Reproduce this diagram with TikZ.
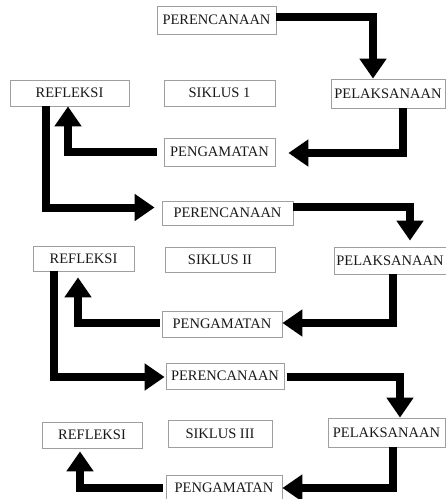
\documentclass[tikz,border=0pt]{standalone}
\usepackage{fontspec}
\setmainfont{Liberation Serif}
\usetikzlibrary{arrows.meta}
\begin{document}
\begin{tikzpicture}[x=1pt,y=-1pt,
  box/.style={draw=gray!75,line width=0.8pt,inner sep=0pt,fill=white,
    font=\fontsize{14.5}{16}\selectfont,text=black!90},
  flow/.style={line width=8pt,line join=miter,draw=black,
    -{Triangle[width=26pt,length=20pt]}}]
\useasboundingbox (0,0) rectangle (446,499);
% cycle 1
\node[box,minimum width=119pt,minimum height=28pt] (p1) at (216.5,20) {PERENCANAAN};
\node[box,minimum width=119pt,minimum height=26pt] (r1) at (69.5,93) {REFLEKSI};
\node[box,minimum width=111pt,minimum height=26pt] (s1) at (219.5,93) {SIKLUS 1};
\node[box,minimum width=114pt,minimum height=29pt] (l1) at (388,93.5) {PELAKSANAAN};
\node[box,minimum width=111pt,minimum height=28pt] (g1) at (219.5,152) {PENGAMATAN};
% cycle 2
\node[box,minimum width=131pt,minimum height=24pt] (p2) at (227.5,213) {PERENCANAAN};
\node[box,minimum width=101pt,minimum height=25pt] (r2) at (83.5,258.5) {REFLEKSI};
\node[box,minimum width=110pt,minimum height=25pt] (s2) at (220,259.5) {SIKLUS II};
\node[box,minimum width=112pt,minimum height=27pt] (l2) at (390,260.5) {PELAKSANAAN};
\node[box,minimum width=120pt,minimum height=26pt] (g2) at (222,324) {PENGAMATAN};
% cycle 3
\node[box,minimum width=118pt,minimum height=26pt] (p3) at (225,376) {PERENCANAAN};
\node[box,minimum width=100pt,minimum height=26pt] (r3) at (92,435) {REFLEKSI};
\node[box,minimum width=104pt,minimum height=27pt] (s3) at (220,433.5) {SIKLUS III};
\node[box,minimum width=117pt,minimum height=29pt] (l3) at (386.5,432.5) {PELAKSANAAN};
\node[box,minimum width=116pt,minimum height=26pt] (g3) at (224,488) {PENGAMATAN};
% arrows cycle 1
\draw[flow] ([yshift=3pt]p1.east) -| ([xshift=-15pt]l1.north);
\draw[flow,shorten >=13pt] ([xshift=15pt]l1.south) |- ([yshift=-1pt]g1.east);
\draw[flow,shorten <=7pt] (g1.west) -| ([xshift=-1.5pt]r1.south);
\draw[flow,shorten >=7pt] ([xshift=-23.5pt]r1.south) |- ([yshift=5.5pt]p2.west);
% arrows cycle 2
\draw[flow,shorten >=6pt] ([yshift=6pt]p2.east) -| ([xshift=20pt]l2.north);
\draw[flow] ([xshift=3pt]l2.south) |- ([yshift=1pt]g2.east);
\draw[flow,shorten <=2pt,shorten >=6pt] ([yshift=1pt]g2.west) -| ([xshift=-5.5pt]r2.south);
\draw[flow,shorten >=1pt] ([xshift=-29.5pt]r2.south) |- ([yshift=-1pt]p3.west);
% arrows cycle 3
\draw[flow,shorten <=3pt] ([yshift=-1pt]p3.east) -| ([xshift=13.5pt]l3.north);
\draw[flow] ([xshift=6.5pt]l3.south) |- (g3.east);
\draw[flow,shorten <=3pt,shorten >=3pt] (g3.west) -| ([xshift=-12pt]r3.south);
\end{tikzpicture}
\end{document}
